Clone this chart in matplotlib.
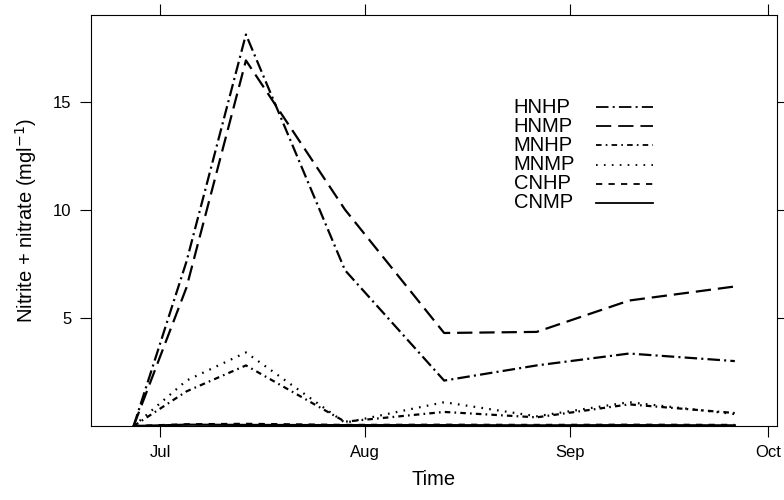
#!/usr/bin/env python3
"""Nitrite + nitrate concentration through the season for each treatment."""

import datetime as dt
import matplotlib
matplotlib.use("Agg")
import matplotlib.pyplot as plt
import matplotlib.dates as mdates

plt.rcParams["font.family"] = ["Liberation Sans", "DejaVu Sans"]
plt.rcParams["lines.scale_dashes"] = False

DATES = [dt.date(2009, 6, 27), dt.date(2009, 7, 5), dt.date(2009, 7, 14),
         dt.date(2009, 7, 29), dt.date(2009, 8, 13), dt.date(2009, 8, 27),
         dt.date(2009, 9, 10), dt.date(2009, 9, 26)]

HNHP = [0.0, 7.6, 18.1, 7.2, 2.1, 2.8, 3.35, 3.0]
HNMP = [0.0, 6.4, 16.9, 10.0, 4.3, 4.35, 5.8, 6.45]
MNHP = [0.0, 1.6, 2.8, 0.2, 0.65, 0.4, 1.0, 0.6]
MNMP = [0.0, 2.1, 3.4, 0.15, 1.1, 0.45, 1.1, 0.55]
CNHP = [0.0, 0.08, 0.1, 0.05, 0.06, 0.05, 0.06, 0.05]
CNMP = [0.0, 0.06, 0.05, 0.04, 0.04, 0.03, 0.04, 0.03]

SERIES = [
    ("HNHP", HNHP, (0, (9, 3, 1.5, 3))),
    ("HNMP", HNMP, (0, (11, 5))),
    ("MNHP", MNHP, (0, (4, 3, 1.2, 3))),
    ("MNMP", MNMP, (0, (1.2, 4.5))),
    ("CNHP", CNHP, (0, (4.5, 4.5))),
    ("CNMP", CNMP, "-"),
]

fig = plt.figure(figsize=(7.84, 5.0), dpi=100)
ax = fig.add_axes([0.116, 0.148, 0.875, 0.822])

for name, vals, ls in SERIES:
    ax.plot(DATES, vals, color="black", linestyle=ls, linewidth=1.6,
            dash_capstyle="butt")

ax.set_xlim(dt.datetime(2009, 6, 20, 13), dt.datetime(2009, 10, 2, 9))
ax.set_ylim(0, 19)
ax.set_yticks([5, 10, 15])
ax.xaxis.set_major_locator(mdates.MonthLocator())
ax.xaxis.set_major_formatter(mdates.DateFormatter("%b"))

ax.tick_params(direction="out", length=8, width=0.8, labelsize=12,
               top=True, right=True, labeltop=False, labelright=False, pad=6)
for sp in ax.spines.values():
    sp.set_linewidth(0.8)

ax.set_xlabel("Time", fontsize=14.5, labelpad=7)
ax.set_ylabel("Nitrite + nitrate (mgl$^{-1}$)", fontsize=14.5, labelpad=10)

# key: label column on the left, line sample on the right
row_y = [0.776, 0.729, 0.683, 0.636, 0.589, 0.543]
for (name, _, ls), y in zip(SERIES, row_y):
    ax.text(0.616, y, name, transform=ax.transAxes, fontsize=14.5,
            ha="left", va="center")
    ax.plot([0.736, 0.819], [y, y], transform=ax.transAxes, color="black",
            linestyle=ls, linewidth=1.3, dash_capstyle="butt")

fig.savefig("out.png", dpi=100)
plt.close(fig)
